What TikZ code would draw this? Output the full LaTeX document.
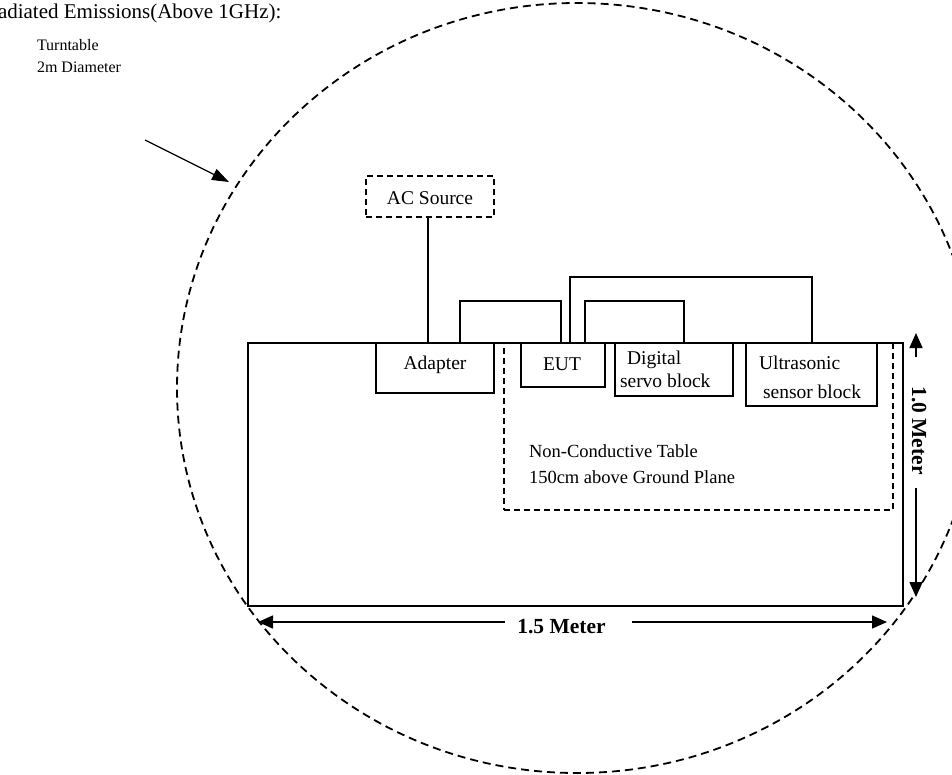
\documentclass[tikz,border=0pt]{standalone}
\usepackage{fontspec}
\setmainfont{Liberation Serif}
\usetikzlibrary{arrows.meta}
\begin{document}
\begin{tikzpicture}[x=1pt,y=-1pt,
  every node/.style={inner sep=0pt, outer sep=0pt},
  txt/.style={font=\fontsize{19.5}{24}\selectfont},
  smalltxt/.style={font=\fontsize{16}{20}\selectfont},
  tabletxt/.style={font=\fontsize{18.5}{22}\selectfont},
  dimtxt/.style={font=\bfseries\fontsize{21.5}{24}\selectfont},
  devbox/.style={draw, line width=1.3pt, anchor=north west},
  dashbox/.style={draw, line width=1.6pt, dash pattern=on 6pt off 4pt},
  wire/.style={line width=1.6pt},
  circdash/.style={line width=1.8pt, dash pattern=on 8pt off 5pt},
  dimtip/.style={line width=1.5pt, -{Triangle[length=15pt,width=13pt]}},
]
\useasboundingbox (0,0) rectangle (952,774);
\clip (0,0) rectangle (952,774);
\fill[white] (0,0) rectangle (952,774);

% turntable
\draw[circdash] (577,388) ellipse[x radius=400pt, y radius=385pt];

% title
\node[anchor=base west, font=\fontsize{21}{24}\selectfont] (title) at (-16,18) {Radiated Emissions(Above 1GHz):};

% turntable label
\node[smalltxt, anchor=base west] (tt1) at (37,50.5) {Turntable};
\node[smalltxt, anchor=base west] (tt2) at (37,72.5) {2m Diameter};
\coordinate (ttA) at (145,140);
\coordinate (ttB) at (229,182);
\draw[line width=1.3pt, -{Triangle[length=17pt,width=12pt]}] (ttA) -- (ttB);

% non-conductive table region
\node[dashbox, minimum width=389pt, minimum height=167pt, anchor=north west] (nct) at (504,343) {};

% table
\node[draw, line width=2.6pt, minimum width=655pt, minimum height=263pt, anchor=north west] (table) at (248,343) {};

% AC source
\node[dashbox, minimum width=128pt, minimum height=41pt, anchor=north west] (ac) at (366,176) {};
\node[txt, anchor=base] (actxt) at (430,204) {AC Source};

% devices
\node[devbox, minimum width=118pt, minimum height=50pt] (adapter) at (376,343) {};
\node[txt, anchor=base] (adtxt) at (435,369) {Adapter};

\node[devbox, minimum width=84pt, minimum height=44pt] (eut) at (521,343) {};
\node[txt, anchor=base] (euttxt) at (562,370.5) {EUT};

\node[devbox, minimum width=118pt, minimum height=53pt] (dsb) at (615,343) {};
\node[txt, anchor=base west] (dsb1) at (627,364.5) {Digital};
\node[txt, anchor=base west] (dsb2) at (620,387.5) {servo block};

\node[devbox, minimum width=131pt, minimum height=63pt] (usb) at (746,343) {};
\node[txt, anchor=base west] (usb1) at (759,369.5) {Ultrasonic};
\node[txt, anchor=base west] (usb2) at (763,398.5) {sensor block};

% table text
\node[tabletxt, anchor=base west] (nct1) at (529,457) {Non-Conductive Table};
\node[tabletxt, anchor=base west] (nct2) at (529,483) {150cm above Ground Plane};

% wires
\draw[wire] (ac.south -| 428,0) -- (adapter.north -| 428,0);
\draw[wire] (adapter.north -| 460,0) |- (561,301) -- (eut.north -| 561,0);
\draw[wire] (eut.north -| 570,0) |- (812,277) -- (usb.north -| 812,0);
\draw[wire] (eut.north -| 585,0) |- (684,301) -- (dsb.north -| 684,0);

% 1.5 m dimension
\fill[white] (505,607.4) rectangle (632,640);
\node[dimtxt, anchor=base] (len15) at (561.5,633.5) {1.5 Meter};
\coordinate (hL0) at (505,622);
\coordinate (hL) at (258,622);
\coordinate (hR0) at (632,622);
\coordinate (hR) at (887,622);
\draw[dimtip] (hL0) -- (hL);
\draw[dimtip] (hR0) -- (hR);

% 1.0 m dimension
\node[dimtxt, anchor=base, rotate=-90] (len10) at (912,430.5) {1.0 Meter};
\coordinate (vT0) at (916,357);
\coordinate (vT) at (916,333);
\coordinate (vB0) at (916,488);
\coordinate (vB) at (916,597);
\draw[dimtip] (vT0) -- (vT);
\draw[dimtip] (vB0) -- (vB);
\end{tikzpicture}
\end{document}
